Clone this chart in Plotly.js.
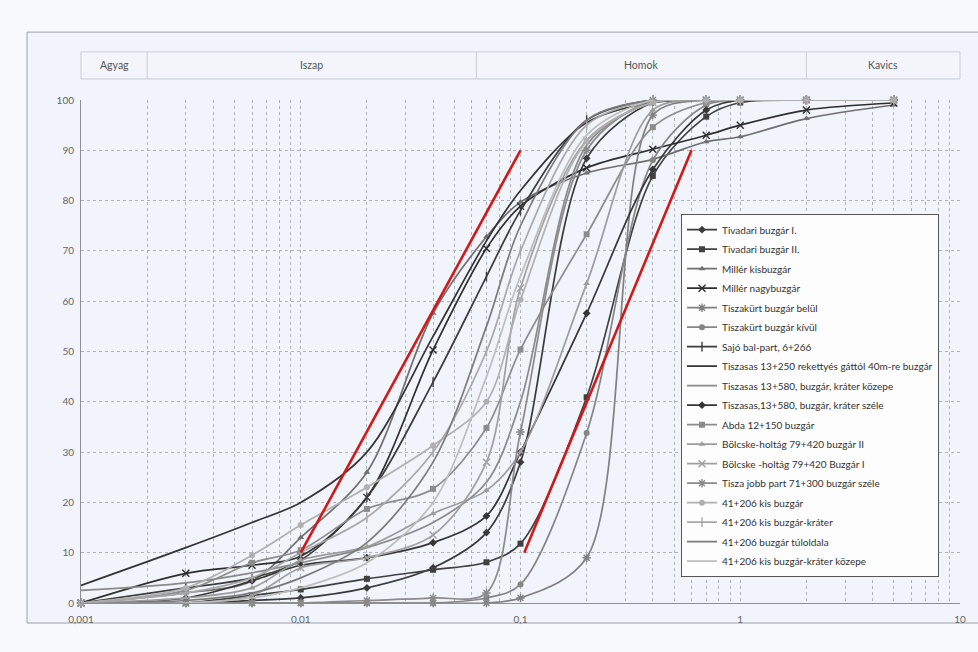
<!DOCTYPE html>
<html><head><meta charset="utf-8">
<script src="https://cdn.plot.ly/plotly-3.0.1.min.js"></script>
<style>html,body{margin:0;padding:0;background:#f8f9fc;}#chart{width:978px;height:652px;}</style>
</head><body><div id="chart"></div>
<script>
// Sieve sizes (mm)
const sizes = [0.001, 0.003, 0.006, 0.01, 0.02, 0.04, 0.07, 0.1, 0.2, 0.4, 0.7, 1, 2, 5];

const seriesNames = [
  "Tivadari buzgár I.",
  "Tivadari buzgár II.",
  "Millér kisbuzgár",
  "Millér nagybuzgár",
  "Tiszakürt buzgár belül",
  "Tiszakürt buzgár kívül",
  "Sajó bal-part, 6+266",
  "Tiszasas 13+250 rekettyés gáttól 40m-re buzgár",
  "Tiszasas 13+580, buzgár, kráter közepe",
  "Tiszasas,13+580, buzgár, kráter széle",
  "Abda 12+150 buzgár",
  "Bölcske-holtág 79+420 buzgár II",
  "Bölcske -holtág 79+420 Buzgár I",
  "Tisza jobb part 71+300 buzgár széle",
  "41+206 kis buzgár",
  "41+206 kis buzgár-kráter",
  "41+206 buzgár túloldala",
  "41+206 kis buzgár-kráter közepe"
];

// Passing percentages for each series
const tivadari1   = [0, 0, 0.5, 1, 3, 7, 14, 28, 88.4, 99.5, 100, 100, 100, 100];
const tivadari2   = [0, 0, 1.5, 2.7, 4.8, 6.6, 8.1, 11.8, 40.9, 84.9, 96.7, 99.5, 100, 100];
const millerKis   = [0, 2, 4.4, 13, 26, 57.6, 72.8, 79.7, 85.5, 88.2, 91.7, 92.7, 96.3, 99];
const millerNagy  = [0, 5.9, 7.5, 9.3, 21, 50.3, 70.5, 78.9, 86.5, 90.2, 93, 95, 98, 99.4];
const tiszakurtBe = [0, 0, 0, 0, 0, 0, 0, 1, 9, 97, 100, 100, 100, 100];
const tiszakurtKi = [0, 0, 0, 0, 0, 0, 1, 3.7, 33.8, 88, 99, 100, 100, 100];
const sajo        = [0, 3, 5, 8.5, 21, 43.9, 64.9, 78, 96, 100, 100, 100, 100, 100];
const tiszasas250 = [3.5, 11, 16, 20, 30, 53, 72, 82, 95.5, 99.5, 100, 100, 100, 100];
const tiszasasKoz = [2.5, 4, 6, 8, 11, 16, 24, 40, 91, 99.5, 100, 100, 100, 100];
const tiszasasSz  = [0, 1, 4.4, 7.5, 9, 12, 17.3, 30, 57.6, 86.2, 98, 100, 100, 100];
const abda        = [0, 2.5, 8, 10.5, 18.7, 22.7, 34.8, 50.4, 73.3, 94.6, 99.5, 100, 100, 100];
const bolcske2    = [0, 1, 3, 8.5, 11.2, 17.8, 22.4, 30, 63.5, 98, 100, 100, 100, 100];
const bolcske1    = [0, 0, 1.5, 7, 9, 13.5, 28, 62.6, 92, 99.5, 100, 100, 100, 100];
const tiszaJobb   = [0, 0, 0, 0, 0.5, 1, 2, 34, 90, 100, 100, 100, 100, 100];
const kisBuzgar   = [0, 3, 9.5, 15.5, 23, 31.3, 40, 60.3, 91.8, 99.5, 100, 100, 100, 100];
const kisKrater   = [0, 2, 5, 10, 17, 30, 50, 70, 95, 100, 100, 100, 100, 100];
const tuloldala   = [0, 0.5, 2, 5, 12, 28, 55, 75, 96, 100, 100, 100, 100, 100];
const kraterKoz   = [0, 0, 1, 3, 8, 20, 45, 65, 93, 100, 100, 100, 100, 100];

const seriesValues = [tivadari1, tivadari2, millerKis, millerNagy, tiszakurtBe, tiszakurtKi, sajo,
  tiszasas250, tiszasasKoz, tiszasasSz, abda, bolcske2, bolcske1, tiszaJobb, kisBuzgar, kisKrater,
  tuloldala, kraterKoz];

// Red reference lines (grain size, %)
const redLine1X = [0.01, 0.1];
const redLine1Y = [10, 90];
const redLine2X = [0.104, 0.6];
const redLine2Y = [10, 90];

// Soil class bands
const bandLabels = ["Agyag", "Iszap", "Homok", "Kavics"];
const bandLimits = [0.001, 0.002, 0.063, 2, 10];

const xTickVals = [0.001, 0.01, 0.1, 1, 10];
const xTickText = ["0,001", "0,01", "0,1", "1", "10"];

// styles
const colors = ["#3a3a3a","#404040","#707070","#2e2e2e","#808080","#858585","#3c3c3c","#333333","#8a8a8a",
  "#353535","#8c8c8c","#9c9c9c","#a0a0a0","#8a8a8a","#b0b0b0","#a8a8a8","#7a7a7a","#bdbdbd"];
const symbols = ["diamond","square","triangle-up","x-thin-open","asterisk-open","circle","line-ns-open",null,null,
  "diamond","square","triangle-up","x-thin-open","asterisk-open","circle","line-ns-open",null,null];

const traces = seriesValues.map((vals, i) => {
  const sym = symbols[i];
  const t = {
    x: sizes, y: vals, name: seriesNames[i], type: 'scatter',
    mode: sym ? 'lines+markers' : 'lines',
    line: {color: colors[i], width: 1.7, shape: 'spline', smoothing: 0.9},
    cliponaxis: false, legendgroup: 'g' + i
  };
  if (sym) {
    const open = sym.indexOf('open') >= 0;
    t.marker = {symbol: sym, size: open ? 7 : 6, color: colors[i],
      line: {color: colors[i], width: open ? 1.4 : 0}};
  }
  return t;
});
traces.push({x: redLine1X, y: redLine1Y, mode: 'lines', line: {color: '#d01a1a', width: 2.6}, showlegend: false, hoverinfo: 'skip'});
traces.push({x: redLine2X, y: redLine2Y, mode: 'lines', line: {color: '#d01a1a', width: 2.6}, showlegend: false, hoverinfo: 'skip'});

const frac = v => (Math.log10(v) + 3) / 4;
const shapes = [
  {type: 'rect', xref: 'paper', yref: 'paper', x0: -0.0614, x1: 1.1, y0: -0.0398, y1: 1.135,
   line: {color: '#9aa0a8', width: 1}, fillcolor: '#f1f4fa', layer: 'below'},
  {type: 'rect', xref: 'paper', yref: 'paper', x0: 0, x1: 1, y0: 1.0418, y1: 1.0956,
   line: {color: '#c9cdd6', width: 1}, fillcolor: '#f3f5fa', layer: 'below'}
];
for (let k = 1; k < bandLimits.length - 1; k++) {
  shapes.push({type: 'line', xref: 'paper', yref: 'paper', x0: frac(bandLimits[k]), x1: frac(bandLimits[k]),
    y0: 1.0418, y1: 1.0956, line: {color: '#c9cdd6', width: 1}});
}
const annotations = bandLabels.map((lab, k) => ({
  text: lab, xref: 'paper', yref: 'paper', showarrow: false,
  x: (frac(bandLimits[k]) + frac(bandLimits[k + 1])) / 2, y: 1.0687,
  xanchor: 'center', yanchor: 'middle', font: {family: 'Lato, sans-serif', size: 10.5, color: '#555'}
}));

// grid values for log axis: all 1..9 per decade
const gridVals = [], gridText = [];
for (let e = -3; e <= 1; e++) {
  for (let m = 1; m <= 9; m++) {
    const v = m * Math.pow(10, e);
    if (v > 10.0001) break;
    gridVals.push(v);
    const idx = xTickVals.findIndex(t => Math.abs(t - v) < 1e-9);
    gridText.push(idx >= 0 ? xTickText[idx] : '');
  }
}

const layout = {
  width: 978, height: 652,
  paper_bgcolor: '#f8f9fc', plot_bgcolor: 'rgba(0,0,0,0)',
  margin: {l: 81, r: 18, t: 100, b: 49},
  font: {family: 'Lato, sans-serif', size: 10, color: '#555'},
  xaxis: {type: 'log', range: [-3, 1], tickvals: gridVals, ticktext: gridText,
    showgrid: true, gridcolor: '#aeb3bc', griddash: 'dot', gridwidth: 1,
    showline: true, linecolor: '#8a8f98', zeroline: false,
    ticks: 'outside', ticklen: 7, tickcolor: 'rgba(0,0,0,0)',
    tickfont: {family: 'Lato, sans-serif', size: 10, color: '#666'}, mirror: false},
  yaxis: {range: [0, 100], dtick: 10, showgrid: true, gridcolor: '#aeb3bc', griddash: 'dot',
    showline: true, linecolor: '#8a8f98', zeroline: false,
    ticks: 'outside', ticklen: 4, tickcolor: 'rgba(0,0,0,0)',
    tickfont: {family: 'Lato, sans-serif', size: 10, color: '#666'}},
  showlegend: true,
  legend: {x: 0.6826, y: 0.773, xanchor: 'left', yanchor: 'top', bgcolor: '#fdfdfe',
    bordercolor: '#555', borderwidth: 1, tracegroupgap: 0.5,
    font: {family: 'Lato, sans-serif', size: 10, color: '#333'}},
  shapes: shapes, annotations: annotations
};

Plotly.newPlot('chart', traces, layout, {displayModeBar: false, staticPlot: true});
</script></body></html>
